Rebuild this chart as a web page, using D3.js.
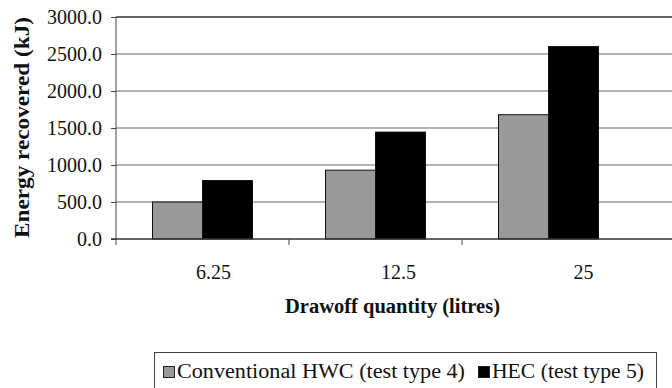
<!DOCTYPE html>
<html>
<head>
<meta charset="utf-8">
<script src="https://cdn.jsdelivr.net/npm/d3@7/dist/d3.min.js"></script>
<style>
  html, body { margin: 0; padding: 0; background: #fff; }
  svg { display: block; }
  text { font-family: "Liberation Serif", "Times New Roman", serif; fill: #111; }
</style>
</head>
<body>
<svg id="chart" width="672" height="388"></svg>
<script>
// Drawoff quantities (litres) and energy recovered (kJ) per test type
const categories = ["6.25", "12.5", "25"];
const seriesNames = ["Conventional HWC (test type 4)", "HEC (test type 5)"];
const conventionalHWC = [500, 930, 1680];
const hec = [790, 1445, 2600];
const yTicks = [0, 500, 1000, 1500, 2000, 2500, 3000];
const seriesColors = ["#999999", "#000000"];

const svg = d3.select("#chart");
const W = 672;

const plot = { left: 116, top: 17, bottom: 239, right: 635 };

const x = d3.scaleBand().domain(categories).range([plot.left, plot.right]);
const xLabel = d3.scaleBand().domain(categories).range([121, 676]);
const groupW = 100;
const xs = d3.scaleBand().domain(seriesNames)
  .range([(x.bandwidth() - groupW) / 2, (x.bandwidth() + groupW) / 2]);
const y = d3.scaleLinear().domain([0, 3000]).range([plot.bottom, plot.top]);

// horizontal gridlines
svg.append("g").selectAll("line").data(yTicks.filter(d => d > 0)).join("line")
  .attr("x1", plot.left).attr("x2", W)
  .attr("y1", d => y(d)).attr("y2", d => y(d))
  .attr("stroke", d => d === 3000 ? "#333" : "#666")
  .attr("stroke-width", d => d === 3000 ? 1.5 : 1);

// bars
const rows = categories.map((c, i) => ({ c, vals: [conventionalHWC[i], hec[i]] }));
const groups = svg.append("g").selectAll("g").data(rows).join("g")
  .attr("transform", d => `translate(${x(d.c)},0)`);
groups.selectAll("rect").data(d => d.vals.map((v, k) => ({ v, k })))
  .join("rect")
  .attr("x", d => xs(seriesNames[d.k]))
  .attr("width", xs.bandwidth())
  .attr("y", d => y(d.v))
  .attr("height", d => y(0) - y(d.v))
  .attr("fill", d => seriesColors[d.k])
  .attr("stroke", "#111").attr("stroke-width", 1);

// y axis
const yAxis = d3.axisLeft(y).tickValues(yTicks).tickSize(5).tickPadding(9)
  .tickFormat(d3.format(".1f"));
const gy = svg.append("g").attr("transform", `translate(${plot.left},0)`).call(yAxis);
gy.select(".domain").attr("d", `M0,${plot.top}V${plot.bottom + 6}`).attr("stroke", "#444");
gy.selectAll(".tick line").attr("stroke", "#444");
gy.selectAll("text").attr("font-family", "Liberation Serif, serif")
  .attr("font-size", 20).attr("fill", "#111");

// baseline + category dividers
svg.append("line").attr("x1", plot.left - 5).attr("x2", W)
  .attr("y1", y(0)).attr("y2", y(0)).attr("stroke", "#333").attr("stroke-width", 1.5);
svg.append("g").selectAll("line").data(categories.slice(1)).join("line")
  .attr("x1", d => x(d)).attr("x2", d => x(d))
  .attr("y1", y(0)).attr("y2", y(0) + 6).attr("stroke", "#444");

// category labels
svg.append("g").selectAll("text").data(categories).join("text")
  .attr("x", d => xLabel(d) + xLabel.bandwidth() / 2)
  .attr("y", 279)
  .attr("text-anchor", "middle")
  .attr("font-size", 20)
  .text(d => d);

// axis titles
svg.append("text")
  .attr("x", 392.5).attr("y", 313)
  .attr("text-anchor", "middle").attr("font-weight", "bold").attr("font-size", 20)
  .attr("textLength", 215).attr("lengthAdjust", "spacingAndGlyphs")
  .text("Drawoff quantity (litres)");
svg.append("text")
  .attr("transform", `translate(29,127.5) rotate(-90)`)
  .attr("text-anchor", "middle").attr("font-weight", "bold").attr("font-size", 20)
  .attr("textLength", 221).attr("lengthAdjust", "spacingAndGlyphs")
  .text("Energy recovered (kJ)");

// legend
const lg = svg.append("g");
lg.append("rect").attr("x", 154.5).attr("y", 352.5).attr("width", 502).attr("height", 50)
  .attr("fill", "#fff").attr("stroke", "#444");
const legendX = [163, 478];
const legendLen = [288, 152];
seriesNames.forEach((name, k) => {
  lg.append("rect").attr("x", legendX[k] + 0.5).attr("y", 366.5).attr("width", 11).attr("height", 11)
    .attr("fill", seriesColors[k]).attr("stroke", "#222");
  lg.append("text").attr("x", legendX[k] + 14).attr("y", 378)
    .attr("font-size", 20)
    .attr("textLength", legendLen[k]).attr("lengthAdjust", "spacingAndGlyphs")
    .text(name);
});
</script>
</body>
</html>
